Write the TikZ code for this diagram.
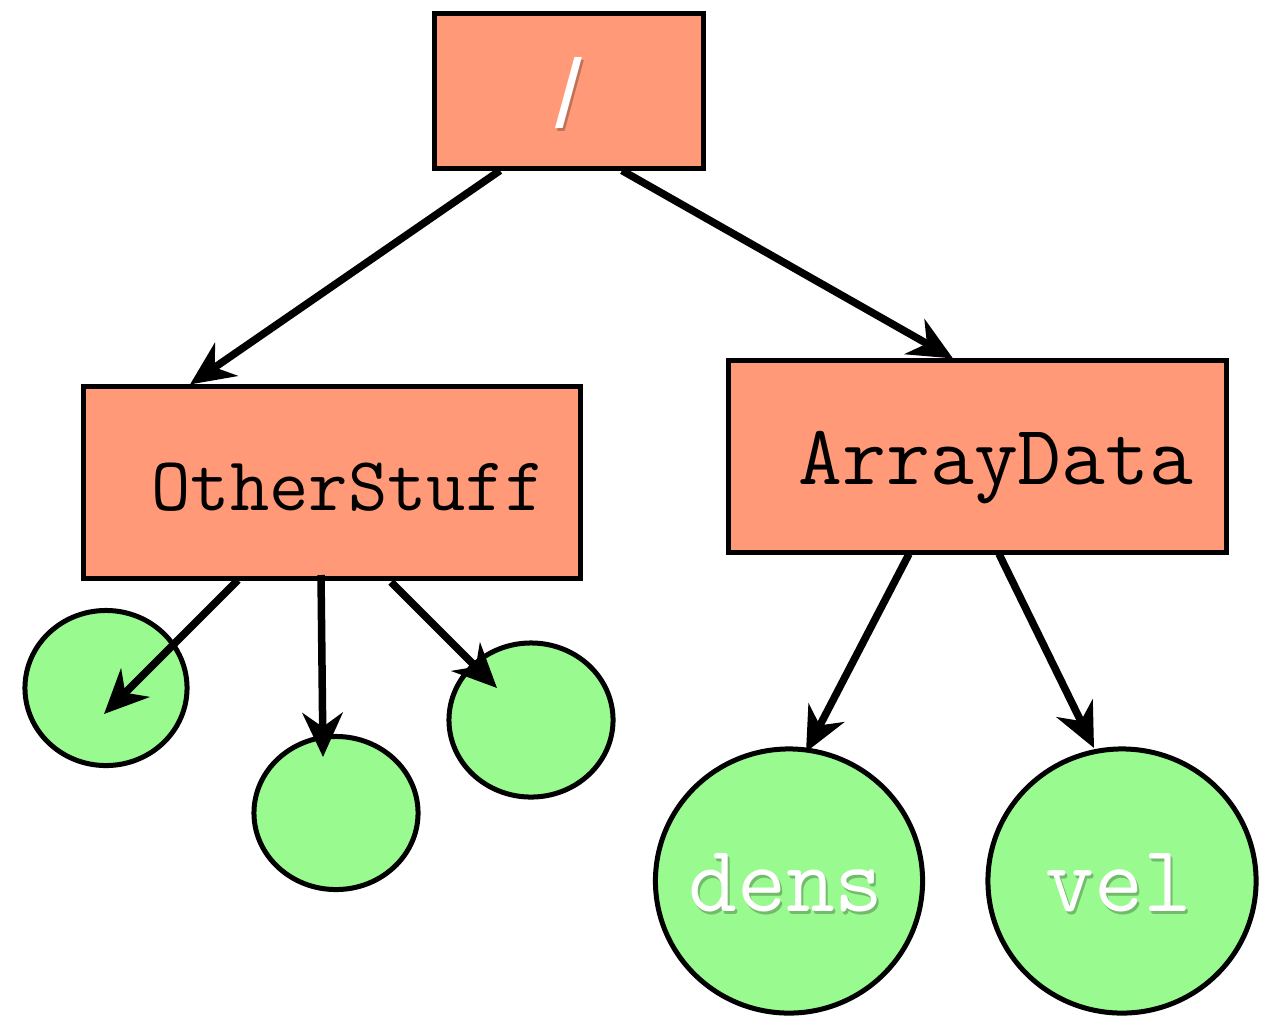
\documentclass[tikz,border=0pt]{standalone}
\usepackage{fontspec}
\newfontfamily\slashfont{Liberation Sans}
\usetikzlibrary{arrows.meta,shapes.geometric,calc}
\definecolor{salmon}{RGB}{255,153,119}
\definecolor{leaf}{RGB}{153,250,143}
\begin{document}
\begin{tikzpicture}[x=0.01cm,y=-0.01cm,
  box/.style={draw=black,line width=0.05cm,fill=salmon,rectangle,inner sep=0pt},
  leafnode/.style={draw=black,line width=0.05cm,fill=leaf,ellipse,inner sep=0pt},
  conn/.style={line width=0.075cm,-{Stealth[length=0.44cm,width=0.4cm,inset=0.14cm]}},
  lbl/.style={inner sep=0pt},
  wlbl/.style={inner sep=0pt,text=white},
  shd/.style={inner sep=0pt,text=black,opacity=0.25}]
\useasboundingbox (0,0) rectangle (1277,1015);
% boxes
\node[box,minimum width=2.68cm,minimum height=1.54cm] (root) at (569,91) {};
\node[box,minimum width=4.96cm,minimum height=1.91cm] (other) at (332,482.5) {};
\node[box,minimum width=4.97cm,minimum height=1.91cm] (array) at (977.5,456.5) {};
% leaves
\node[leafnode,minimum width=1.62cm,minimum height=1.55cm] (c1) at (106,688) {};
\node[leafnode,minimum width=1.64cm,minimum height=1.53cm] (c2) at (336,813) {};
\node[leafnode,minimum width=1.64cm,minimum height=1.54cm] (c3) at (531,720) {};
\node[leafnode,minimum width=2.67cm,minimum height=2.64cm] (dens) at (789,881) {};
\node[leafnode,minimum width=2.68cm,minimum height=2.64cm] (vel) at (1122,881) {};
% labels
\node[shd,font=\slashfont\fontsize{27.5}{27.5}\selectfont] (rootshd) at (571,96) {/};
\node[wlbl,font=\slashfont\fontsize{27.5}{27.5}\selectfont] (rootlbl) at (569,93) {/};
\node[lbl,anchor=base,font=\ttfamily\fontsize{21.7}{21.7}\selectfont] (otherlbl) at (348,510) {OtherStuff};
\node[lbl,anchor=base,font=\ttfamily\fontsize{24.2}{24.2}\selectfont] (arraylbl) at (996,484) {ArrayData};
\node[shd,anchor=base,font=\ttfamily\fontsize{27}{27}\selectfont] (densshd) at (788,914) {dens};
\node[wlbl,anchor=base,font=\ttfamily\fontsize{27}{27}\selectfont] (denslbl) at (786,911) {dens};
\node[shd,anchor=base,font=\ttfamily\fontsize{27}{27}\selectfont] (velshd) at (1121,914) {vel};
\node[wlbl,anchor=base,font=\ttfamily\fontsize{27}{27}\selectfont] (vellbl) at (1119,911) {vel};
% connector end points
\coordinate (r1) at (root.south -| 500,0);
\coordinate (r2) at (root.south -| 622,0);
\coordinate (o1e) at (other.north -| 190,0);
\coordinate (a1e) at (array.north -| 953,0);
\coordinate (o1) at (238,580);
\coordinate (o2) at (321,575);
\coordinate (o3) at (391,582);
\coordinate (c1e) at (104,714);
\coordinate (c2e) at (323,757);
\coordinate (c3e) at (497,688);
\coordinate (a1) at (909,554);
\coordinate (a2) at (999,554);
\coordinate (dense) at (806,752);
\coordinate (vele) at (1094,748);
% connectors
\draw[conn] (r1) -- (o1e);
\draw[conn] (r2) -- (a1e);
\draw[conn] (o1) -- (c1e);
\draw[conn] (o2) -- (c2e);
\draw[conn] (o3) -- (c3e);
\draw[conn] (a1) -- (dense);
\draw[conn] (a2) -- (vele);
\end{tikzpicture}
\end{document}
